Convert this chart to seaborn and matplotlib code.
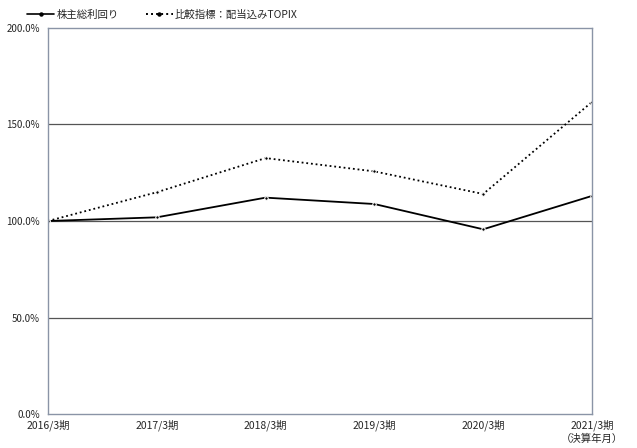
import matplotlib
matplotlib.use("Agg")
import matplotlib.pyplot as plt
import matplotlib.transforms as mtransforms
import seaborn as sns
import pandas as pd
from matplotlib.ticker import FuncFormatter
from matplotlib.lines import Line2D

categories = ["2016/3期", "2017/3期", "2018/3期", "2019/3期", "2020/3期", "2021/3期\n（決算年月）"]
series_names = ["株主総利回り", "比較指標：配当込みTOPIX"]
tsr = [100.0, 101.9, 112.1, 108.8, 95.7, 113.0]
topix = [100.0, 114.9, 132.6, 125.7, 114.0, 161.7]
yticks = [0, 50, 100, 150, 200]

sns.set_theme(style="white")
plt.rcParams['font.family'] = ['Noto Sans CJK JP', 'DejaVu Sans']

df = pd.DataFrame({
    "x": list(range(len(categories))) * 2,
    "value": tsr + topix,
    "series": [series_names[0]] * len(tsr) + [series_names[1]] * len(topix),
})

fig = plt.figure(figsize=(6.37, 4.48), dpi=100)
ax = fig.add_axes([48/637, 34/448, 544/637, 386/448])

sns.lineplot(data=df, x="x", y="value", hue="series", style="series",
             palette=["black", "black"], dashes=[(None, None), (1, 1.6)],
             markers=["o", "o"], markersize=2.5, linewidth=1.3, ax=ax, legend=False)

ax.set_xlim(0, len(categories) - 1)
ax.set_ylim(0, 200)
ax.set_yticks(yticks)
ax.yaxis.set_major_formatter(FuncFormatter(lambda v, p: f"{v:.1f}%"))
ax.set_xticks(range(len(categories)))
ax.set_xticklabels(categories, fontsize=7.5, linespacing=1.3)
offset = mtransforms.ScaledTranslation(0, 2 / 72, fig.dpi_scale_trans)
for lbl in ax.get_yticklabels():
    lbl.set_fontsize(7)
    lbl.set_transform(lbl.get_transform() + offset)
ax.tick_params(axis="y", length=0, pad=6)
ax.tick_params(axis="x", length=0, pad=4)
ax.set_xlabel("")
ax.set_ylabel("")
for y in yticks[1:-1]:
    ax.axhline(y, color="#555555", linewidth=0.9, zorder=0)
for s in ax.spines.values():
    s.set_color("#8a94a6")
    s.set_linewidth(1.0)

handles = [Line2D([], [], color="black", lw=1.2, marker="o", markersize=2.2),
           Line2D([], [], color="black", lw=1.4, ls=(0, (1, 1.6)), marker="o", markersize=2.2)]
fig.legend(handles, series_names, loc="upper left", bbox_to_anchor=(18/637, 1.0),
           ncol=2, frameon=False, fontsize=7.5, handlelength=2.6, columnspacing=2.6,
           handletextpad=0.2)

fig.savefig("out.png", dpi=100)
